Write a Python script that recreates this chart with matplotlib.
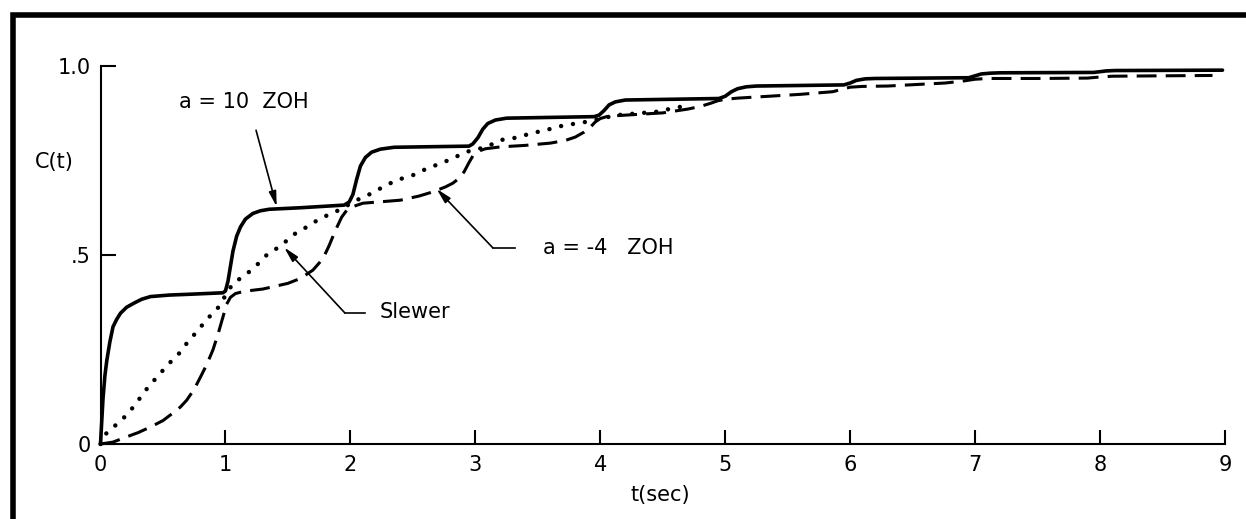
import matplotlib.pyplot as plt
from matplotlib.lines import Line2D

# Step responses: t (sec) vs c(t)
t_zoh10 = [0.0, 0.01, 0.02, 0.035, 0.05, 0.075, 0.10, 0.13, 0.16, 0.21, 0.27, 0.33, 0.40, 0.55, 0.70,
           0.98, 1.00, 1.02, 1.04, 1.06, 1.09, 1.12, 1.16, 1.22, 1.28, 1.35, 1.60,
           1.95, 1.99, 2.02, 2.05, 2.08, 2.12, 2.17, 2.24, 2.35,
           2.95, 2.98, 3.02, 3.06, 3.10, 3.16, 3.25,
           3.95, 3.99, 4.03, 4.07, 4.12, 4.20,
           4.95, 5.00, 5.05, 5.10, 5.17, 5.25,
           5.95, 6.00, 6.05, 6.12, 6.20,
           6.95, 7.00, 7.05, 7.12, 7.20,
           7.95, 8.00, 8.05, 8.12, 8.98]
c_zoh10 = [0.0, 0.06, 0.12, 0.18, 0.22, 0.27, 0.31, 0.33, 0.346, 0.362, 0.373, 0.383, 0.39, 0.394, 0.396,
           0.40, 0.405, 0.43, 0.47, 0.51, 0.55, 0.574, 0.595, 0.61, 0.617, 0.621, 0.625,
           0.632, 0.64, 0.66, 0.70, 0.735, 0.758, 0.772, 0.780, 0.785,
           0.788, 0.794, 0.81, 0.833, 0.848, 0.857, 0.862,
           0.866, 0.87, 0.882, 0.897, 0.905, 0.91,
           0.914, 0.92, 0.932, 0.94, 0.945, 0.947,
           0.95, 0.955, 0.962, 0.966, 0.967,
           0.969, 0.974, 0.979, 0.981, 0.982,
           0.983, 0.985, 0.987, 0.988, 0.989]

t_zohm4 = [0.0, 0.10, 0.21, 0.30, 0.40, 0.50, 0.58, 0.64, 0.69, 0.75, 0.80, 0.85, 0.90, 0.94, 0.98,
           1.01, 1.04, 1.08, 1.15, 1.30, 1.50, 1.60, 1.70, 1.78, 1.83, 1.88, 1.93, 1.97,
           2.02, 2.10, 2.25, 2.40, 2.55, 2.66, 2.76, 2.82, 2.87, 2.91, 2.95, 2.98,
           3.02, 3.08, 3.20, 3.40, 3.60, 3.72, 3.80, 3.87, 3.92, 3.96,
           4.00, 4.05, 4.15, 4.50, 4.70, 4.80, 4.88, 4.94,
           5.00, 5.10, 5.60, 5.86, 5.93, 6.00, 6.10, 6.30, 6.76, 6.90,
           7.00, 7.10, 7.50, 7.90, 8.00, 8.10, 8.90]
c_zohm4 = [0.0, 0.005, 0.019, 0.03, 0.045, 0.062, 0.082, 0.098, 0.116, 0.145, 0.177, 0.21, 0.249, 0.29, 0.336,
           0.37, 0.388, 0.398, 0.404, 0.41, 0.425, 0.438, 0.46, 0.49, 0.525, 0.565, 0.60, 0.618,
           0.628, 0.637, 0.641, 0.645, 0.656, 0.667, 0.68, 0.69, 0.703, 0.72, 0.745, 0.762,
           0.774, 0.781, 0.786, 0.79, 0.796, 0.803, 0.812, 0.825, 0.838, 0.852,
           0.861, 0.866, 0.869, 0.876, 0.886, 0.893, 0.901, 0.908,
           0.912, 0.915, 0.925, 0.932, 0.938, 0.944, 0.946, 0.947, 0.955, 0.96,
           0.965, 0.967, 0.967, 0.968, 0.971, 0.973, 0.975]

t_slew = [0.0, 0.05, 0.14, 0.22, 0.29, 0.38, 0.46, 0.54, 0.63, 0.71, 0.78, 0.85, 0.93, 1.06,
          1.16, 1.25, 1.33, 1.45, 1.54, 1.65, 1.76, 1.88, 2.08, 2.17, 2.26, 2.37, 2.50, 2.62,
          2.73, 2.82, 2.93, 3.09, 3.20, 3.32, 3.45, 3.57, 3.72, 3.84, 4.13, 4.45, 4.58, 4.72]
c_slew = [0.0, 0.03, 0.055, 0.08, 0.11, 0.15, 0.18, 0.21, 0.24, 0.275, 0.30, 0.33, 0.355, 0.425,
          0.447, 0.473, 0.50, 0.526, 0.553, 0.574, 0.597, 0.614, 0.65, 0.663, 0.68, 0.698, 0.711, 0.73,
          0.743, 0.756, 0.773, 0.786, 0.804, 0.81, 0.822, 0.831, 0.844, 0.849, 0.87, 0.879, 0.888, 0.897]

x_ticks = list(range(10))
y_ticks = [0.0, 0.5, 1.0]
y_ticklabels = ["0", ".5", "1.0"]

W, H = 1246, 519
fig = plt.figure(figsize=(W / 100, H / 100), dpi=100)
ax = fig.add_axes([100.5 / W, (H - 444) / H, (1225 - 100.5) / W, (444 - 66) / H])

ax.plot(t_zoh10, c_zoh10, color="black", lw=2.6, solid_capstyle="round",
        solid_joinstyle="round", clip_on=False)
ax.plot(t_zohm4, c_zohm4, color="black", lw=2.2, linestyle=(0, (6.5, 3)), clip_on=False)
ax.plot(t_slew, c_slew, color="black", lw=3.2, linestyle=(0, (0.01, 2.7)),
        dash_capstyle="round", clip_on=False)

ax.set_xlim(0, 9)
ax.set_ylim(0, 1.0)
for side in ("top", "right"):
    ax.spines[side].set_visible(False)
for side in ("left", "bottom"):
    ax.spines[side].set_linewidth(1.5)

ax.set_xticks(x_ticks)
ax.set_yticks(y_ticks)
ax.set_yticklabels(y_ticklabels)
ax.tick_params(axis="both", direction="in", width=1.5, labelsize=15)
ax.tick_params(axis="x", length=10, pad=8)
ax.tick_params(axis="y", length=11, pad=7)

ax.set_xlabel("t(sec)", fontsize=15)
ax.xaxis.set_label_coords((660 - 100.5) / (1225 - 100.5), -0.108)
ax.text(-0.041, 0.746, "C(t)", transform=ax.transAxes, fontsize=15, ha="center", va="center")

# curve labels with pointer arrows
arrow = dict(arrowstyle="-|>,head_length=0.9,head_width=0.22", color="black", lw=1.2,
             shrinkA=0, shrinkB=0)
ax.text(1.15, 0.905, "a = 10  ZOH", fontsize=15, ha="center", va="center")
ax.annotate("", xy=(1.41, 0.628), xytext=(1.245, 0.83), arrowprops=arrow)

ax.text(4.06, 0.518, "a = -4   ZOH", fontsize=15, ha="center", va="center")
ax.plot([3.14, 3.32], [0.519, 0.519], color="black", lw=1.2)
ax.annotate("", xy=(2.69, 0.675), xytext=(3.14, 0.519), arrowprops=arrow)

ax.text(2.52, 0.35, "Slewer", fontsize=15, ha="center", va="center")
ax.plot([1.955, 2.12], [0.347, 0.347], color="black", lw=1.2)
ax.annotate("", xy=(1.47, 0.52), xytext=(1.955, 0.347), arrowprops=arrow)

# heavy frame along the top and left edges
fig.add_artist(Line2D([12.5 / W, 12.5 / W, 1.0], [0.0, 1 - 15 / H, 1 - 15 / H],
                      transform=fig.transFigure, color="black", lw=4, solid_joinstyle="miter"))

fig.savefig("out.png", dpi=100)
